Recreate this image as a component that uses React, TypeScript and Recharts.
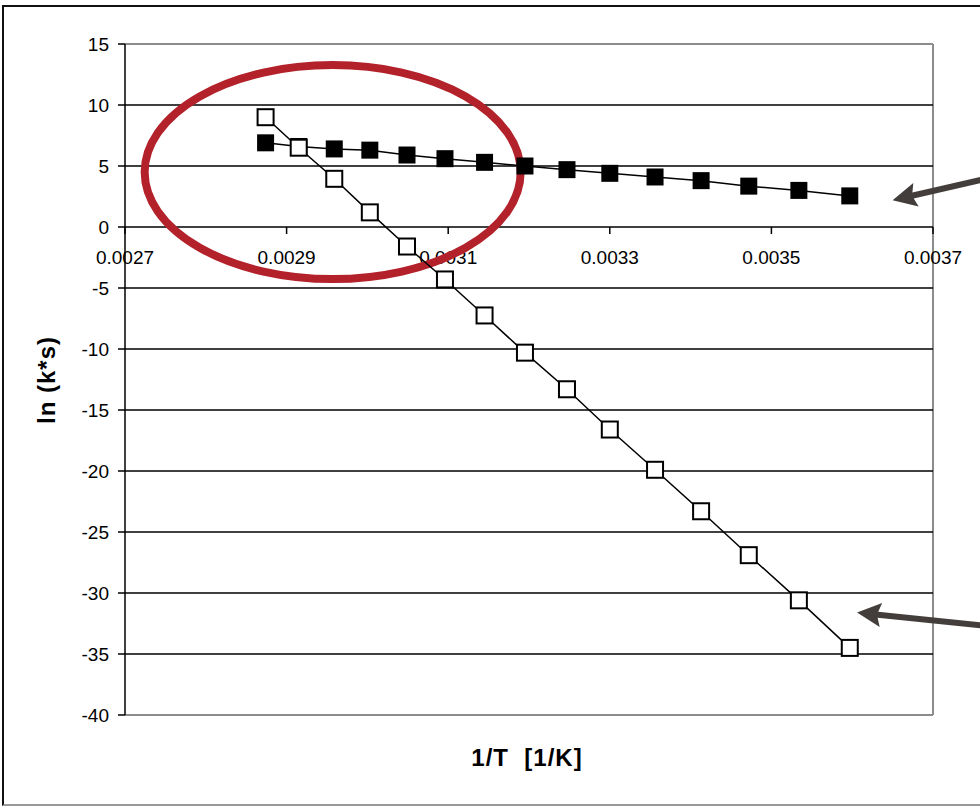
import {
  ReferenceDot,
  ReferenceLine,
  Scatter,
  ScatterChart,
  XAxis,
  YAxis
} from "recharts";

// 1/T [1/K] for the measured temperatures
const INV_T = [
  0.002874, 0.002915, 0.002959, 0.003003, 0.003049, 0.003096, 0.003145, 0.003195,
  0.003247, 0.0033, 0.003356, 0.003413, 0.003472, 0.003534, 0.003597
];
// ln(k*s), flat series (filled squares)
const LN_KS_FLAT = [6.9, 6.6, 6.4, 6.3, 5.9, 5.6, 5.3, 5.0, 4.7, 4.4, 4.1, 3.8, 3.35, 3.0, 2.55];
// ln(k*s), steep series (open squares)
const LN_KS_STEEP = [
  9.0, 6.5, 3.95, 1.2, -1.6, -4.3, -7.25, -10.3, -13.3, -16.6, -19.9, -23.3, -26.9, -30.6, -34.5
];

const X_TICKS = [0.0027, 0.0029, 0.0031, 0.0033, 0.0035, 0.0037];
const Y_TICKS = [-40, -35, -30, -25, -20, -15, -10, -5, 0, 5, 10, 15];
const GRID_Y = [-35, -30, -25, -20, -15, -10, -5, 0, 5, 10];

const FONT = '"Liberation Sans", Arial, Helvetica, sans-serif';
const ARROW = "#433e3c";
const FRAME = "#8c8c8c";

const flatRows = INV_T.map((x, i) => ({ x, y: LN_KS_FLAT[i] }));
const steepRows = INV_T.map((x, i) => ({ x, y: LN_KS_STEEP[i] }));

function FilledSquare(props: any) {
  return <rect x={props.cx - 8.5} y={props.cy - 8.5} width={17} height={17} fill="#000" />;
}

function OpenSquare(props: any) {
  return (
    <rect x={props.cx - 8} y={props.cy - 8} width={16} height={16} fill="#fff" stroke="#000" strokeWidth={2} />
  );
}

const xTick = (value: number) => (p: any) => (
  <g>
    <line x1={p.cx} y1={p.cy} x2={p.cx} y2={p.cy + 7} stroke="#000" strokeWidth={1.5} />
    <text x={p.cx} y={p.cy + 37} textAnchor="middle" fontSize={19} fontFamily={FONT} fill="#000">
      {value.toFixed(4)}
    </text>
  </g>
);

const ellipseShape = (p: any) => (
  <ellipse cx={p.cx} cy={p.cy} rx={188} ry={107} fill="none" stroke="#b3212a" strokeWidth={8} />
);

// arrow drawn from its tip back towards a tail offset (in px)
const arrowShape = (dx: number, dy: number) => (p: any) => {
  const len = Math.hypot(dx, dy);
  const ux = dx / len;
  const uy = dy / len;
  const nx = -uy;
  const ny = ux;
  const head = 24;
  const hw = 12;
  const sw = 3;
  const bx = p.cx + ux * head;
  const by = p.cy + uy * head;
  const tx = p.cx + dx;
  const ty = p.cy + dy;
  const pts = [
    [p.cx, p.cy],
    [bx + nx * hw, by + ny * hw],
    [bx - ux * 3 + nx * sw, by - uy * 3 + ny * sw],
    [tx + nx * sw, ty + ny * sw],
    [tx - nx * sw, ty - ny * sw],
    [bx - ux * 3 - nx * sw, by - uy * 3 - ny * sw],
    [bx - nx * hw, by - ny * hw]
  ];
  return <polygon points={pts.map((q) => q.join(",")).join(" ")} fill={ARROW} />;
};

export default function App() {
  return (
    <div style={{ position: "absolute", left: 0, top: 0, width: 980, height: 806, background: "#fff", overflow: "hidden" }}>
      <div
        style={{
          position: "absolute",
          left: 2,
          top: 5,
          width: 990,
          height: 797,
          borderTop: "2px solid #111",
          borderLeft: "2px solid #111",
          borderBottom: "2px solid #999"
        }}
      />
      <ScatterChart width={980} height={806} margin={{ top: 44, right: 47, bottom: 91, left: 0 }} style={{ position: "absolute", left: 0, top: 0 }}>
        <XAxis type="number" dataKey="x" domain={[0.0027, 0.0037]} hide allowDataOverflow />
        <YAxis
          type="number"
          dataKey="y"
          domain={[-40, 15]}
          ticks={Y_TICKS}
          interval={0}
          width={125}
          allowDataOverflow
          axisLine={{ stroke: "#000", strokeWidth: 1.5 }}
          tickLine={{ stroke: "#000", strokeWidth: 1.5 }}
          tickSize={7}
          tickMargin={9}
          tick={{ fill: "#000", fontSize: 19, fontFamily: FONT }}
        />
        <ReferenceLine y={15} stroke={FRAME} strokeWidth={2} />
        <ReferenceLine y={-40} stroke={FRAME} strokeWidth={2} />
        <ReferenceLine x={0.0037} stroke={FRAME} strokeWidth={2} />
        {GRID_Y.map((v) => (
          <ReferenceLine key={v} y={v} stroke="#000" strokeWidth={1.5} />
        ))}
        {X_TICKS.map((t) => (
          <ReferenceDot key={t} x={t} y={0} ifOverflow="visible" shape={xTick(t)} />
        ))}
        <ReferenceDot x={0.002957} y={4.5} ifOverflow="visible" shape={ellipseShape} />
        <ReferenceDot x={0.00365} y={2.2} ifOverflow="visible" shape={arrowShape(100, -23)} />
        <ReferenceDot x={0.003606} y={-31.6} ifOverflow="visible" shape={arrowShape(135, 14)} />
        <Scatter
          name="flat"
          data={flatRows}
          shape={FilledSquare}
          line={{ stroke: "#000", strokeWidth: 1.5 }}
          lineType="joint"
          fill="#000"
          isAnimationActive={false}
        />
        <Scatter
          name="steep"
          data={steepRows}
          shape={OpenSquare}
          line={{ stroke: "#000", strokeWidth: 1.5 }}
          lineType="joint"
          fill="#fff"
          isAnimationActive={false}
        />
      </ScatterChart>
      <svg width={980} height={806} style={{ position: "absolute", left: 0, top: 0, pointerEvents: "none" }}>
        <text
          x={527}
          y={766}
          textAnchor="middle"
          fontSize={24}
          fontWeight="bold"
          fontFamily={FONT}
          letterSpacing={1}
          style={{ whiteSpace: "pre" }}
        >
          {"1/T  [1/K]"}
        </text>
        <text
          transform="translate(55, 380) rotate(-90)"
          textAnchor="middle"
          fontSize={24}
          fontWeight="bold"
          fontFamily={FONT}
          letterSpacing={1}
          style={{ whiteSpace: "pre" }}
        >
          {"ln (k*s)"}
        </text>
      </svg>
    </div>
  );
}
